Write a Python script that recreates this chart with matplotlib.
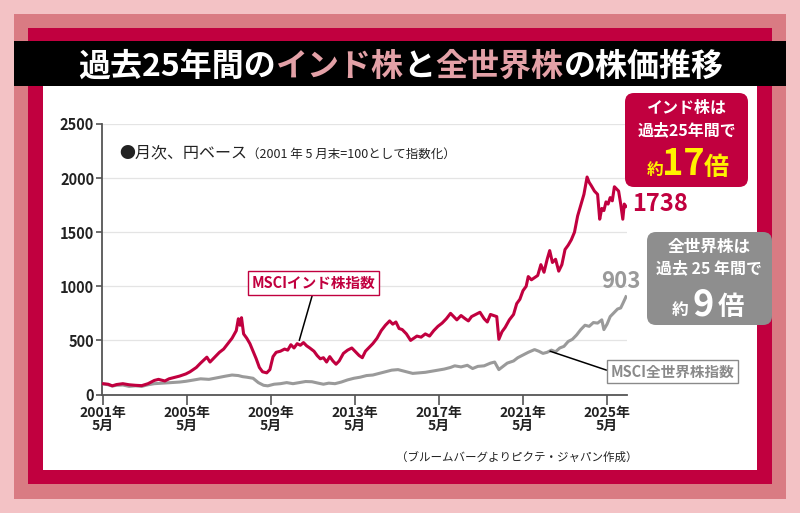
import matplotlib
matplotlib.use("Agg")
import matplotlib.pyplot as plt
from matplotlib.patches import Rectangle, FancyBboxPatch

plt.rcParams['font.family'] = ['Noto Sans CJK JP', 'DejaVu Sans']

# MSCIインド株指数（月次、円ベース、2001年5月末=100）
india_t = [2001.33, 2001.6, 2001.8, 2002.0, 2002.3, 2002.6, 2002.9, 2003.2, 2003.5, 2003.8,
           2004.0, 2004.3, 2004.5, 2004.8, 2005.0, 2005.3, 2005.5, 2005.8, 2006.0, 2006.3,
           2006.45, 2006.6, 2006.9, 2007.1, 2007.3, 2007.5, 2007.7, 2007.8, 2007.88, 2007.95,
           2008.05, 2008.2, 2008.35, 2008.5, 2008.65, 2008.8, 2008.95, 2009.15, 2009.3, 2009.45,
           2009.6, 2009.8, 2010.0, 2010.15, 2010.3, 2010.45, 2010.6, 2010.75, 2010.9, 2011.05,
           2011.2, 2011.4, 2011.55, 2011.7, 2011.85, 2012.0, 2012.15, 2012.3, 2012.45, 2012.6,
           2012.8, 2013.0, 2013.2, 2013.35, 2013.55, 2013.7, 2013.85, 2014.0, 2014.2, 2014.4,
           2014.6, 2014.8, 2015.0, 2015.15, 2015.3, 2015.45, 2015.6, 2015.8, 2016.0, 2016.15,
           2016.3, 2016.5, 2016.7, 2016.9, 2017.1, 2017.3, 2017.5, 2017.7, 2017.9, 2018.05,
           2018.2, 2018.4, 2018.6, 2018.75, 2018.9, 2019.1, 2019.3, 2019.5, 2019.65, 2019.8,
           2019.95, 2020.1, 2020.2, 2020.35, 2020.5, 2020.7, 2020.9, 2021.05, 2021.2, 2021.35,
           2021.5, 2021.6, 2021.75, 2021.9, 2022.05, 2022.2, 2022.35, 2022.5, 2022.62, 2022.75,
           2022.9, 2023.05, 2023.2, 2023.35, 2023.5, 2023.65, 2023.8, 2023.95, 2024.1, 2024.25,
           2024.4, 2024.5, 2024.6, 2024.75, 2024.9, 2025.0, 2025.1, 2025.2, 2025.3, 2025.4,
           2025.5, 2025.6, 2025.7, 2025.8, 2025.9, 2026.0, 2026.1, 2026.17, 2026.25]
india_v = [100, 95, 80, 92, 100, 90, 85, 82, 100, 130,
           140, 125, 145, 160, 170, 190, 210, 250, 290, 345,
           300, 330, 390, 420, 470, 520, 590, 700, 640, 710,
           560, 520, 470, 400, 330, 250, 210, 200, 230, 350,
           390, 400, 420, 410, 460, 430, 470, 455, 480, 450,
           430, 400, 360, 330, 340, 300, 350, 310, 280, 310,
           380, 410, 430, 400, 360, 340, 400, 430, 470, 520,
           590, 640, 680, 650, 670, 610, 600, 560, 500, 520,
           540, 530, 560, 540, 590, 630, 660, 700, 750, 720,
           690, 730, 700, 680, 720, 740, 760, 700, 670, 740,
           730, 720, 510, 580, 620, 690, 740, 840, 880, 960,
           1000, 1090, 1060, 1080, 1100, 1200, 1130, 1250, 1330, 1220,
           1250, 1140, 1200, 1340, 1380, 1430, 1500, 1650, 1750, 1850,
           2010, 1960, 1930, 1880, 1850, 1620, 1720, 1700, 1780, 1760,
           1820, 1790, 1920, 1900, 1880, 1760, 1620, 1760, 1738]

# MSCI全世界株指数（同）
world_t = [2001.33, 2001.6, 2001.8, 2002.0, 2002.3, 2002.6, 2002.9, 2003.2, 2003.5, 2003.8,
           2004.2, 2004.6, 2005.0, 2005.3, 2005.7, 2006.0, 2006.4, 2006.8, 2007.2, 2007.5,
           2007.8, 2008.0, 2008.2, 2008.5, 2008.75, 2009.0, 2009.2, 2009.5, 2009.8, 2010.1,
           2010.4, 2010.7, 2011.0, 2011.3, 2011.6, 2011.85, 2012.1, 2012.4, 2012.7, 2013.0,
           2013.3, 2013.6, 2013.9, 2014.2, 2014.5, 2014.8, 2015.1, 2015.4, 2015.6, 2015.9,
           2016.1, 2016.4, 2016.7, 2017.0, 2017.3, 2017.6, 2017.9, 2018.1, 2018.4, 2018.7,
           2018.95, 2019.2, 2019.5, 2019.8, 2020.0, 2020.2, 2020.4, 2020.6, 2020.9, 2021.1,
           2021.4, 2021.6, 2021.9, 2022.1, 2022.3, 2022.5, 2022.7, 2022.9, 2023.1, 2023.3,
           2023.5, 2023.7, 2023.9, 2024.1, 2024.3, 2024.5, 2024.7, 2024.9, 2025.1, 2025.2,
           2025.35, 2025.5, 2025.7, 2025.85, 2026.0, 2026.1, 2026.25]
world_v = [100, 90, 78, 85, 88, 75, 80, 75, 90, 100,
           105, 110, 115, 122, 135, 145, 140, 155, 170, 180,
           175, 165, 160, 150, 110, 85, 80, 95, 100, 110,
           100, 110, 120, 118, 105, 95, 105, 100, 115, 135,
           150, 160, 175, 180, 195, 210, 225, 230, 220, 205,
           195, 200, 205, 215, 225, 235, 250, 265, 255, 270,
           240, 260, 265, 290, 300, 230, 260, 290, 310, 340,
           370, 390, 415, 400, 380, 390, 410, 395, 430, 445,
           490, 510, 550, 600, 640, 630, 665, 660, 690, 600,
           650, 720, 760, 790, 800, 840, 903]

tick_years = [2001, 2005, 2009, 2013, 2017, 2021, 2025]
tick_labels = [f"{y}年\n5月" for y in tick_years]
y_ticks = [0, 500, 1000, 1500, 2000, 2500]

CRIMSON = "#c1003f"
MIDPINK = "#d97b83"
LIGHTPINK = "#f3c2c5"
TITLEPINK = "#e3a1a7"
GRAY = "#9a9a9a"
BOXGRAY = "#8e8e8e"
YELLOW = "#fff200"

W, H = 800, 513
fig = plt.figure(figsize=(W / 100, H / 100), dpi=100)
fig.patch.set_facecolor(LIGHTPINK)

# background frames, drawn in pixel coordinates
bg = fig.add_axes([0, 0, 1, 1], zorder=0)
bg.set_xlim(0, W)
bg.set_ylim(H, 0)
bg.axis("off")
bg.add_patch(Rectangle((14, 14), 772, 485, fc=MIDPINK, ec="none"))
bg.add_patch(Rectangle((28, 28), 744, 456, fc=CRIMSON, ec="none"))
bg.add_patch(Rectangle((14, 41), 772, 45, fc="black", ec="none"))
bg.add_patch(Rectangle((43, 86), 714, 384, fc="white", ec="none"))

# title, colored segments chained left to right
segs = [("過去25年間の", "white"), ("インド株", TITLEPINK), ("と", "white"),
        ("全世界株", TITLEPINK), ("の株価推移", "white")]
prev = bg.text(78, 76, segs[0][0], color=segs[0][1], fontsize=23,
               fontweight="bold", va="baseline", ha="left")
for s, c in segs[1:]:
    prev = bg.annotate(s, xy=(1, 0), xycoords=prev, va="bottom", ha="left",
                       color=c, fontsize=23, fontweight="bold")

# chart
ax = fig.add_axes([102.5 / W, (H - 394.5) / H, (627 - 102.5) / W, (394.5 - 124) / H], zorder=2)
ax.set_facecolor("none")
ax.plot(world_t, world_v, color=GRAY, lw=2.2, zorder=3)
ax.plot(india_t, india_v, color=CRIMSON, lw=2.2, zorder=4)
ax.set_xlim(2001.333, 2026.3)
ax.set_ylim(0, 2500)
ax.set_yticks(y_ticks)
ax.set_xticks([y + 4 / 12 for y in tick_years])
ax.set_xticklabels(tick_labels, linespacing=0.95, fontweight="bold")
ax.set_yticklabels([str(v) for v in y_ticks], fontweight="bold")
for yv in y_ticks[1:]:
    ax.axhline(yv, color="#e4e4e4", lw=0.9, zorder=1)
for sp in ["top", "right"]:
    ax.spines[sp].set_visible(False)
for sp in ["left", "bottom"]:
    ax.spines[sp].set_color("#555555")
    ax.spines[sp].set_linewidth(1.3)
ax.tick_params(axis="y", length=4, width=1.2, color="#555555", labelsize=10.5,
               labelcolor="#222222", pad=2)
ax.tick_params(axis="x", length=7, width=1.2, color="#555555", labelsize=10,
               labelcolor="#222222", pad=1)

# end labels
ax.annotate(str(india_v[-1]), xy=(india_t[-1], india_v[-1]), xytext=(6, 2),
            textcoords="offset pixels", ha="left", va="center", fontsize=17,
            fontweight="bold", color=CRIMSON, annotation_clip=False)
ax.annotate(str(world_v[-1]), xy=(world_t[-1], world_v[-1]), xytext=(-5, 4),
            textcoords="offset pixels", ha="center", va="bottom", fontsize=16,
            fontweight="bold", color=GRAY, annotation_clip=False)

# series labels with leader lines
ax.annotate("MSCIインド株指数", xy=(2010.7, 500), xytext=(313.5, H - 283),
            textcoords="figure pixels", ha="center", va="center", fontsize=10.5,
            fontweight="bold", color=CRIMSON,
            bbox=dict(boxstyle="square,pad=0.25", fc="white", ec=CRIMSON, lw=1),
            arrowprops=dict(arrowstyle="-", color="black", lw=1.1, shrinkA=0,
                            shrinkB=0, relpos=(0.5, 0)))
ax.annotate("MSCI全世界株指数", xy=(2022.64, 400), xytext=(672.5, H - 371.5),
            textcoords="figure pixels", ha="center", va="center", fontsize=10.5,
            fontweight="bold", color="#8a8a8a",
            bbox=dict(boxstyle="square,pad=0.25", fc="white", ec="#8a8a8a", lw=1),
            arrowprops=dict(arrowstyle="-", color="black", lw=1.1, shrinkA=0,
                            shrinkB=0, relpos=(0, 0.5)))

# foreground: notes and callouts
fg = fig.add_axes([0, 0, 1, 1], zorder=3)
fg.set_facecolor("none")
fg.set_xlim(0, W)
fg.set_ylim(H, 0)
fg.axis("off")

note = fg.text(119, 157, "●月次、円ベース", fontsize=11.5, color="#222222",
               va="baseline", ha="left")
fg.annotate("（2001 年 5 月末=100として指数化）", xy=(1, 0), xycoords=note,
            va="bottom", ha="left", fontsize=9, color="#222222")
fg.text(637, 457, "（ブルームバーグよりピクテ・ジャパン作成）", fontsize=8.3,
        color="#222222", ha="right", va="center")

fg.add_patch(FancyBboxPatch((625, 93), 123, 94, boxstyle="round,pad=0,rounding_size=9",
                            fc=CRIMSON, ec="none"))
fg.text(687, 108, "インド株は", color="white", fontsize=11.5, fontweight="bold",
        ha="center", va="center")
fg.text(687, 130, "過去25年間で", color="white", fontsize=11.5, fontweight="bold",
        ha="center", va="center")
fg.text(655, 175, "約", color=YELLOW, fontsize=12, fontweight="bold", ha="center", va="baseline")
fg.text(683, 175, "17", color=YELLOW, fontsize=26, fontweight="bold", ha="center", va="baseline")
fg.text(716, 175, "倍", color=YELLOW, fontsize=18, fontweight="bold", ha="center", va="baseline")

fg.add_patch(FancyBboxPatch((647, 232), 125, 93, boxstyle="round,pad=0,rounding_size=9",
                            fc=BOXGRAY, ec="none"))
fg.text(709, 247, "全世界株は", color="white", fontsize=12, fontweight="bold",
        ha="center", va="center")
fg.text(709, 268, "過去 25 年間で", color="white", fontsize=11.5, fontweight="bold",
        ha="center", va="center")
fg.text(680, 315, "約", color="white", fontsize=12, fontweight="bold", ha="center", va="baseline")
fg.text(703, 315, "9", color="white", fontsize=26, fontweight="bold", ha="center", va="baseline")
fg.text(731, 315, "倍", color="white", fontsize=19, fontweight="bold", ha="center", va="baseline")

fig.savefig("out.png", dpi=100, facecolor=fig.get_facecolor())
